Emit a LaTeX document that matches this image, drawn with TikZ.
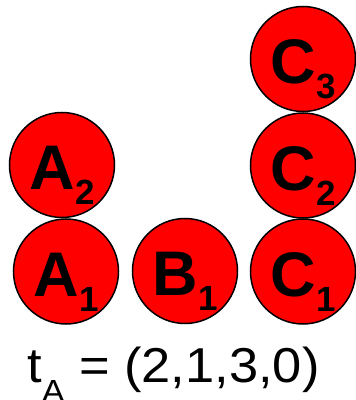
\documentclass[tikz,border=0pt]{standalone}
\usepackage{fontspec}
\setmainfont{Liberation Sans}
\begin{document}
\begin{tikzpicture}[x=1pt,y=1pt,
  ball/.style={circle, fill=red, draw=black, line width=1.5pt, minimum size=105pt, inner sep=0pt},
  lbl/.style={anchor=base, font=\bfseries\fontsize{63}{63}\selectfont, inner sep=0pt, yshift=-25pt}]
\useasboundingbox (0,0) rectangle (356,400);
\newcommand{\lsub}[1]{\raisebox{-15pt}{\fontsize{35}{35}\selectfont #1}}
\node[ball] (A1) at (66,128.5) {};
\node[ball] (A2) at (62,235) {};
\node[ball] (B1) at (185,129) {};
\node[ball] (C1) at (303,128.5) {};
\node[ball] (C2) at (303,234.5) {};
\node[ball] (C3) at (303,341) {};
\node[lbl] (A1t) at (A1) {A\lsub{1}};
\node[lbl] (A2t) at (A2) {A\lsub{2}};
\node[lbl] (B1t) at (B1) {B\lsub{1}};
\node[lbl] (C1t) at (C1) {C\lsub{1}};
\node[lbl] (C2t) at (C2) {C\lsub{2}};
\node[lbl] (C3t) at (C3) {C\lsub{3}};
\node[anchor=base west, inner sep=0pt, font=\fontsize{49}{49}\selectfont] (tA) at (27,17)
  {\scalebox{1.07}[1]{t\raisebox{-20pt}{\fontsize{32}{32}\selectfont A} = (2,1,3,0)}};
\end{tikzpicture}
\end{document}
